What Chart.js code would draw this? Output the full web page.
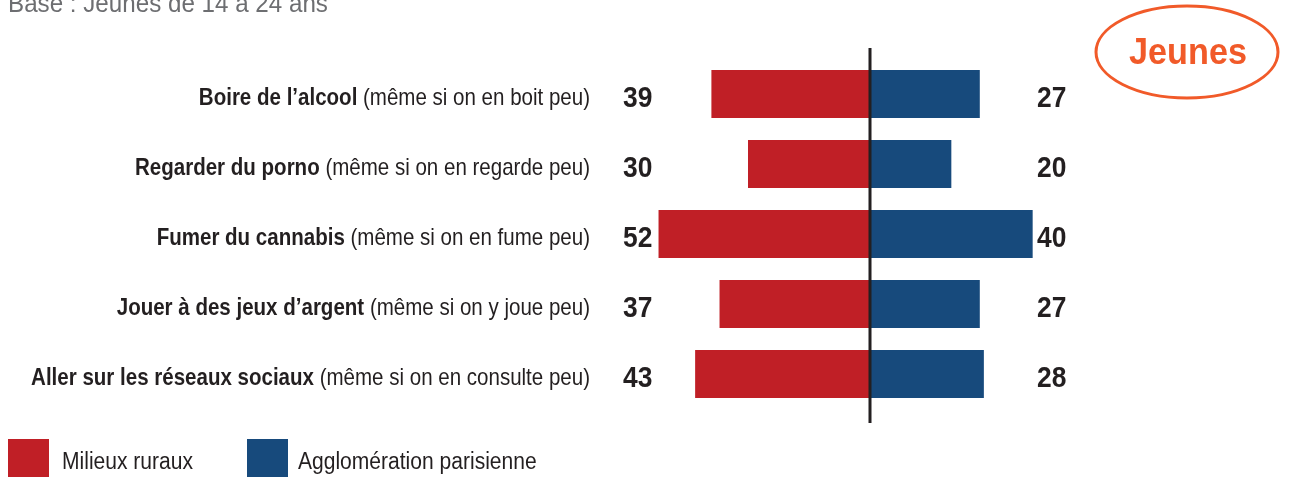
<!DOCTYPE html>
<html>
<head>
<meta charset="utf-8">
<script src="https://cdn.jsdelivr.net/npm/chart.js@4.4.0/dist/chart.umd.min.js"></script>
<style>
  html, body { margin: 0; padding: 0; background: #ffffff; }
  #wrap { position: relative; width: 1290px; height: 477px; }
</style>
</head>
<body>
<div id="wrap"><canvas id="chart" width="1290" height="477"></canvas></div>
<script>
// data
var boldLabels = ["Boire de l\u2019alcool", "Regarder du porno", "Fumer du cannabis", "Jouer \u00e0 des jeux d\u2019argent", "Aller sur les r\u00e9seaux sociaux"];
var normalLabels = ["(m\u00eame si on en boit peu)", "(m\u00eame si on en regarde peu)", "(m\u00eame si on en fume peu)", "(m\u00eame si on y joue peu)", "(m\u00eame si on en consulte peu)"];
var rural = [39, 30, 52, 37, 43];
var paris = [27, 20, 40, 27, 28];
var seriesNames = ["Milieux ruraux", "Agglom\u00e9ration parisienne"];
var subtitle = "Base : Jeunes de 14 \u00e0 24 ans";
var badge = "Jeunes";

var RED = "#c01f26";
var BLUE = "#174a7c";
var INK = "#231f20";
var FONT = "'Liberation Sans', Arial, sans-serif";

// texte "condensé" : police normale compressée horizontalement
function condText(ctx, text, x, y, size, weight, sx, align) {
    ctx.save();
    ctx.font = weight + ' ' + size + 'px ' + FONT;
    var w = ctx.measureText(text).width * sx;
    var left = x;
    if (align == 'right') left = x - w;
    ctx.translate(left, y);
    ctx.scale(sx, 1);
    ctx.textAlign = 'left';
    ctx.textBaseline = 'alphabetic';
    ctx.fillText(text, 0, 0);
    ctx.restore();
    return w;
}

var decor = {
    id: 'decor',
    afterDatasetsDraw: function(chart) {
        var ctx = chart.ctx;
        var xs = chart.scales.x, ys = chart.scales.y;
        var x0 = xs.getPixelForValue(0);

        // axe central
        ctx.save();
        ctx.strokeStyle = INK;
        ctx.lineWidth = 3;
        ctx.beginPath();
        ctx.moveTo(x0, 48);
        ctx.lineTo(x0, 423);
        ctx.stroke();

        ctx.fillStyle = INK;
        for (var i = 0; i < boldLabels.length; i++) {
            var y = ys.getPixelForValue(i);
            var nw = condText(ctx, ' ' + normalLabels[i], 590, y + 11, 24, 'normal', 0.855, 'right');
            condText(ctx, boldLabels[i], 590 - nw, y + 11, 24, 'bold', 0.855, 'right');

            condText(ctx, String(rural[i]), 623, y + 13, 30, 'bold', 0.88, 'left');
            condText(ctx, String(paris[i]), 1037, y + 13, 30, 'bold', 0.88, 'left');
        }

        // sous-titre
        ctx.fillStyle = '#6d6e71';
        condText(ctx, subtitle, 8, 12, 26, 'normal', 0.93, 'left');

        // pastille Jeunes
        ctx.strokeStyle = '#f15a29';
        ctx.lineWidth = 3;
        ctx.beginPath();
        ctx.ellipse(1187, 52, 91, 46, 0, 0, Math.PI * 2);
        ctx.stroke();
        ctx.fillStyle = '#f15a29';
        var bw = condText(ctx, badge, 0, -100, 36, 'bold', 0.95, 'left');
        condText(ctx, badge, 1188 - bw / 2, 64, 36, 'bold', 0.95, 'left');

        // légende
        var leg = [[8, 62, RED], [247, 298, BLUE]];
        for (var k = 0; k < 2; k++) {
            ctx.fillStyle = leg[k][2];
            ctx.fillRect(leg[k][0], 439, 41, 38);
            ctx.fillStyle = INK;
            condText(ctx, seriesNames[k], leg[k][1], 469, 23, 'normal', 0.915, 'left');
        }
        ctx.restore();
    }
};

new Chart(document.getElementById('chart'), {
    type: 'bar',
    data: {
        labels: boldLabels,
        datasets: [
            { label: seriesNames[0], data: rural.map(function(v) { return -v; }), backgroundColor: RED },
            { label: seriesNames[1], data: paris, backgroundColor: BLUE }
        ]
    },
    options: {
        indexAxis: 'y',
        responsive: false,
        animation: false,
        layout: { padding: { left: 626, right: 176, top: 59, bottom: 68 } },
        datasets: { bar: { categoryPercentage: 1, barPercentage: 0.686 } },
        scales: {
            x: { stacked: true, min: -60, max: 60, display: false },
            y: { stacked: true, display: false }
        },
        plugins: { legend: { display: false }, tooltip: { enabled: false } }
    },
    plugins: [decor]
});
</script>
</body>
</html>
